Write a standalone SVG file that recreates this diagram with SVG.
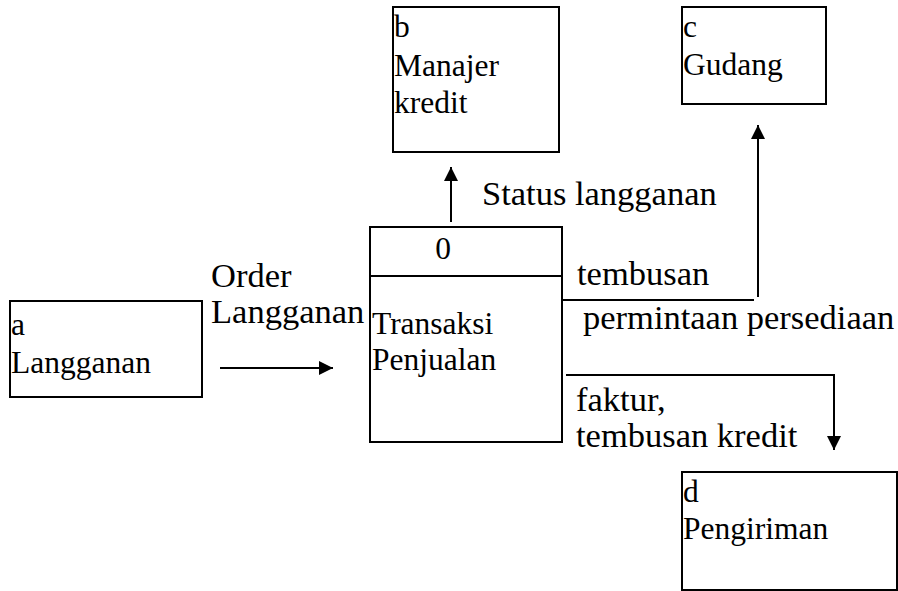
<svg xmlns="http://www.w3.org/2000/svg" width="898" height="591" viewBox="0 0 898 591">
  <style>
    .box { fill: #ffffff; stroke: #000000; stroke-width: 2; }
    .flow { fill: none; stroke: #000000; stroke-width: 2; }
    .node, .lbl { font-family: "Liberation Serif", "Times New Roman", serif; fill: #000000; }
    .node { font-size: 31.5px; }
    .lbl { font-size: 34.5px; }
  </style>
  <defs>
    <marker id="arrow" viewBox="0 0 14 14" refX="14" refY="7" markerWidth="14" markerHeight="14" markerUnits="userSpaceOnUse" orient="auto">
      <path d="M0,0 L14,7 L0,14 Z" fill="#000000"/>
    </marker>
  </defs>
  <rect width="898" height="591" fill="#ffffff"/>

  <!-- external entity a -->
  <g id="node-a">
    <rect class="box" x="10" y="301" width="192" height="96"/>
    <text class="node" x="11" y="335">a</text>
    <text class="node" x="11" y="373">Langganan</text>
  </g>

  <!-- external entity b -->
  <g id="node-b">
    <rect class="box" x="393" y="7" width="166" height="145"/>
    <text class="node" x="394" y="37">b</text>
    <text class="node" x="394" y="76">Manajer</text>
    <text class="node" x="394" y="113">kredit</text>
  </g>

  <!-- external entity c -->
  <g id="node-c">
    <rect class="box" x="682" y="7" width="144" height="97"/>
    <text class="node" x="683" y="37">c</text>
    <text class="node" x="683" y="75">Gudang</text>
  </g>

  <!-- external entity d -->
  <g id="node-d">
    <rect class="box" x="682" y="472" width="215" height="118"/>
    <text class="node" x="683" y="502">d</text>
    <text class="node" x="683" y="539">Pengiriman</text>
  </g>

  <!-- process 0 -->
  <g id="node-0">
    <rect class="box" x="370" y="227" width="192" height="215"/>
    <line class="flow" x1="370" y1="276" x2="562" y2="276"/>
    <text class="node" x="443" y="259" text-anchor="middle">0</text>
    <text class="node" x="372" y="334">Transaksi</text>
    <text class="node" x="372" y="370">Penjualan</text>
  </g>

  <!-- data flows -->
  <g id="connectors">
    <line class="flow" x1="220" y1="368" x2="333" y2="368" marker-end="url(#arrow)"/>
    <line class="flow" x1="451" y1="222" x2="451" y2="167" marker-end="url(#arrow)"/>
    <polyline class="flow" points="562,300 754,300"/>
    <line class="flow" x1="758" y1="297" x2="758" y2="125" marker-end="url(#arrow)"/>
    <polyline class="flow" points="566,375 834,375 834,450" marker-end="url(#arrow)"/>

    <text class="lbl" x="211" y="287">Order</text>
    <text class="lbl" x="211" y="323">Langganan</text>
    <text class="lbl" x="482" y="205">Status langganan</text>
    <text class="lbl" x="577" y="285">tembusan</text>
    <text class="lbl" x="583" y="329">permintaan persediaan</text>
    <text class="lbl" x="576" y="411">faktur,</text>
    <text class="lbl" x="576" y="447">tembusan kredit</text>
  </g>
</svg>
